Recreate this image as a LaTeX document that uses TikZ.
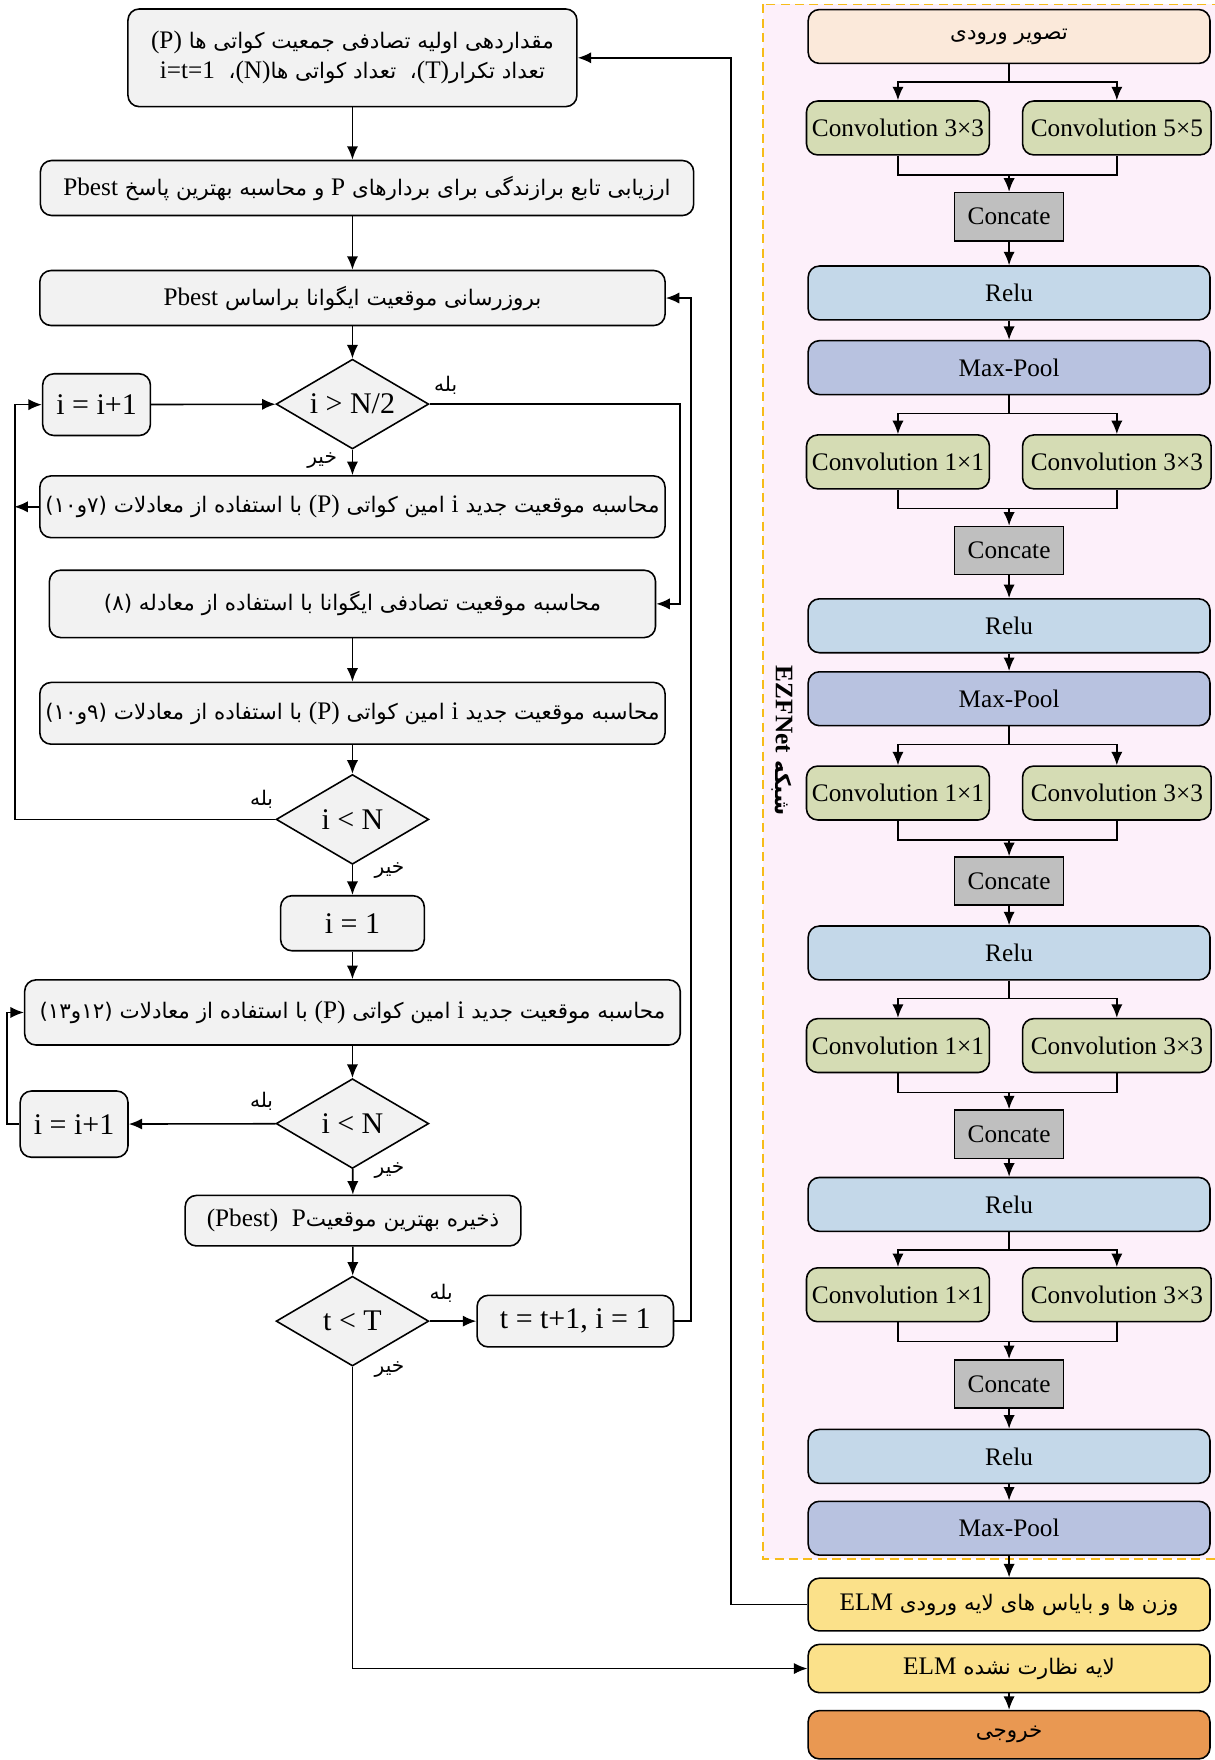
\documentclass[tikz,border=0pt]{standalone}
\usepackage{fontspec}
\setmainfont{Liberation Serif}
\newfontfamily\arabicfont[Script=Arabic,Scale=0.85]{DejaVu Sans}
\TeXXeTstate=1
\usetikzlibrary{shapes.geometric,arrows.meta}

\definecolor{boxgrey}{HTML}{F2F2F2}
\definecolor{inpeach}{HTML}{FBE9DA}
\definecolor{convgreen}{HTML}{D5DCB4}
\definecolor{catgrey}{HTML}{BFBFBF}
\definecolor{relublue}{HTML}{C4D8E9}
\definecolor{poolblue}{HTML}{B8C2E0}
\definecolor{elmyellow}{HTML}{FBE18A}
\definecolor{outorange}{HTML}{E99852}
\definecolor{framefill}{HTML}{FDF0FA}
\definecolor{frameline}{HTML}{F7BC1A}

\NewDocumentCommand{\fatxt}{m}{{\arabicfont\beginR #1\endR}}
\NewDocumentCommand{\entxt}{m}{\beginL{\rmfamily #1}\endL{}}

\tikzset{
  base/.style={draw, line width=1pt, font=\fontsize{16}{19}\selectfont, inner sep=2pt},
  proc/.style={base, rounded corners=2.5mm, fill=boxgrey, align=center},
  big/.style={font=\fontsize{19}{22}\selectfont},
  cond/.style={base, big, diamond, aspect=1.7, fill=boxgrey, inner sep=0pt, minimum width=34mm, minimum height=20mm},
  layer/.style={base, rounded corners=2.5mm, minimum width=89.5mm, minimum height=12mm},
  conv/.style={base, rounded corners=2.5mm, fill=convgreen, minimum height=12mm},
  cat/.style={base, fill=catgrey, minimum width=24.25mm, minimum height=10.75mm},
  note/.style={font=\fontsize{15}{17}\selectfont, inner sep=0pt},
  arr/.style={-{Latex[length=3mm,width=2.5mm]}, line width=1pt},
  ln/.style={line width=1pt}
}

% two parallel convolutions joined by a concat box
\NewDocumentCommand{\convpair}{mmmmmm}{%
\node[conv, minimum width=40.75mm] (cl#1) at (800,#3) {#5};
\node[conv, minimum width=42mm] (cr#1) at (995,#3) {#6};
\node[cat] (cat#1) at (899,#4) {Concate};
\draw[ln] (#2.south) -- ++(0,16) coordinate (sp#1);
\draw[arr] (sp#1) -| (cl#1.north);
\draw[arr] (sp#1) -| (cr#1.north);
\draw[ln] (cl#1.south) -- ++(0,17) coordinate (mg#1) -| (cr#1.south);
\draw[arr] (mg#1 -| cat#1.north) -- (cat#1.north);
}

\begin{document}
\begin{tikzpicture}[x=0.25mm,y=-0.25mm]
\useasboundingbox (0,0) rectangle (1082,1568);

% network frame
\draw[dash pattern=on 2mm off 1.2mm, draw=frameline, fill=framefill, line width=1pt] (680,4) rectangle (1086,1389);
\node[rotate=-90, font=\fontsize{16}{19}\selectfont\bfseries] (netname) at (697,660) {\fatxt{شبکه \entxt{EZFNet}}};

% algorithm
\node[proc, minimum width=100mm, minimum height=21.75mm] (init) at (314,51.5)
  {\fatxt{مقداردهی اولیه تصادفی جمعیت کواتی ها \entxt{(P)}}\\
   \fatxt{تعداد تکرار\entxt{(T)}،~~تعداد کواتی ها\entxt{(N)}،~~\entxt{i=t=1}}};
\node[proc, minimum width=145.5mm, minimum height=12.25mm] (eval) at (327,167.5)
  {\fatxt{ارزیابی تابع برازندگی برای بردارهای \entxt{P} و محاسبه بهترین پاسخ \entxt{Pbest}}};
\node[proc, minimum width=139.25mm, minimum height=12.25mm] (update) at (314,265.5)
  {\fatxt{بروزرسانی موقعیت ایگوانا براساس \entxt{Pbest}}};
\node[cond] (d1) at (314,360) {i > N/2};
\node[proc, big, minimum width=24mm, minimum height=13.75mm] (inc1) at (86,360.5) {i = i+1};
\node[proc, minimum width=139.25mm, minimum height=13.75mm] (calc7) at (314,451.5)
  {\fatxt{محاسبه موقعیت جدید \entxt{i} امین کواتی \entxt{(P)} با استفاده از معادلات (۷و۱۰)}};
\node[proc, minimum width=135mm, minimum height=15mm] (rand8) at (314,538)
  {\fatxt{محاسبه موقعیت تصادفی ایگوانا با استفاده از معادله (۸)}};
\node[proc, minimum width=139.25mm, minimum height=13.75mm] (calc9) at (314,635.5)
  {\fatxt{محاسبه موقعیت جدید \entxt{i} امین کواتی \entxt{(P)} با استفاده از معادلات (۹و۱۰)}};
\node[cond] (d2) at (314,730) {i < N};
\node[proc, big, minimum width=32mm, minimum height=12.25mm] (one) at (314,822.5) {i = 1};
\node[proc, minimum width=146mm, minimum height=14.5mm] (calc12) at (314,902)
  {\fatxt{محاسبه موقعیت جدید \entxt{i} امین کواتی \entxt{(P)} با استفاده از معادلات (۱۲و۱۳)}};
\node[cond] (d3) at (314,1001) {i < N};
\node[proc, big, minimum width=24mm, minimum height=14.75mm] (inc2) at (66,1001.5) {i = i+1};
\node[proc, minimum width=74.75mm, minimum height=11.25mm] (save) at (314.5,1087.5)
  {\fatxt{ذخیره بهترین موقعیت\entxt{P}~~\entxt{(Pbest)}}};
\node[cond] (d4) at (314,1177) {t < T};
\node[proc, big, minimum width=43.75mm, minimum height=11.5mm] (tinc) at (512.5,1177) {t = t+1, i = 1};

\node[note] (yes1) at (397,343) {\fatxt{بله}};
\node[note] (no1) at (287,410) {\fatxt{خیر}};
\node[note] (yes2) at (233,712) {\fatxt{بله}};
\node[note] (no2) at (347,776) {\fatxt{خیر}};
\node[note] (yes3) at (233,981) {\fatxt{بله}};
\node[note] (no3) at (347,1043) {\fatxt{خیر}};
\node[note] (yes4) at (393,1152) {\fatxt{بله}};
\node[note] (no4) at (347,1220) {\fatxt{خیر}};

\draw[arr] (init.south) -- (init.south |- eval.north);
\draw[arr] (update.north |- eval.south) -- (update.north);
\draw[arr] (update) -- (d1);
\draw[arr] (inc1) -- (d1);
\draw[arr] (d1.east) -- ++(223,0) |- (rand8.east);
\draw[arr] (d1) -- (calc7);
\draw[arr] (calc7.west) -- ++(-22,0);
\draw[arr] (rand8) -- (calc9);
\draw[arr] (calc9) -- (d2);
\draw[arr] (d2.west) -- ++(-232,0) |- (inc1.west);
\draw[arr] (d2) -- (one);
\draw[arr] (one) -- (calc12);
\draw[arr] (calc12) -- (d3);
\draw[arr] (d3) -- (inc2);
\draw[arr] (inc2.west) -- ++(-11,0) |- (calc12.west);
\draw[arr] (d3) -- (save);
\draw[arr] (save) -- (d4);
\draw[arr] (d4) -- (tinc);
\draw[arr] (tinc.east) -- ++(15,0) |- (update.east);

% network
\node[layer, fill=inpeach] (inp) at (899,32.5) {\fatxt{تصویر ورودی}};
\convpair{1}{inp}{114}{193}{Convolution 3×3}{Convolution 5×5}
\node[layer, fill=relublue] (relu1) at (899,261) {Relu};
\node[layer, fill=poolblue] (pool1) at (899,327.5) {Max-Pool};
\convpair{2}{pool1}{411.5}{490.5}{Convolution 1×1}{Convolution 3×3}
\node[layer, fill=relublue] (relu2) at (899,557.5) {Relu};
\node[layer, fill=poolblue] (pool2) at (899,622.5) {Max-Pool};
\convpair{3}{pool2}{706.5}{785}{Convolution 1×1}{Convolution 3×3}
\node[layer, fill=relublue] (relu3) at (899,849) {Relu};
\convpair{4}{relu3}{931.5}{1010.5}{Convolution 1×1}{Convolution 3×3}
\node[layer, fill=relublue] (relu4) at (899,1073) {Relu};
\convpair{5}{relu4}{1153.5}{1233}{Convolution 1×1}{Convolution 3×3}
\node[layer, fill=relublue] (relu5) at (899,1297.5) {Relu};
\node[layer, fill=poolblue] (pool3) at (899,1361.5) {Max-Pool};
\node[layer, fill=elmyellow, minimum height=11.75mm] (elm1) at (899,1429.5)
  {\fatxt{وزن ها و بایاس های لایه ورودی \entxt{ELM}}};
\node[layer, fill=elmyellow, minimum height=10.75mm] (elm2) at (899,1486.5)
  {\fatxt{لایه نظارت نشده \entxt{ELM}}};
\node[layer, fill=outorange, minimum height=10.75mm] (out) at (899,1545.5) {\fatxt{خروجی}};

\draw[arr] (cat1) -- (relu1);
\draw[arr] (relu1) -- (pool1);
\draw[arr] (cat2) -- (relu2);
\draw[arr] (relu2) -- (pool2);
\draw[arr] (cat3) -- (relu3);
\draw[arr] (cat4) -- (relu4);
\draw[arr] (cat5) -- (relu5);
\draw[arr] (relu5) -- (pool3);
\draw[arr] (pool3) -- (elm1);
\draw[arr] (elm2) -- (out);

% links between the two parts
\draw[arr] (elm1.west) -- ++(-68,0) |- (init.east);
\draw[arr] (d4.south) |- (elm2.west);
\end{tikzpicture}
\end{document}
